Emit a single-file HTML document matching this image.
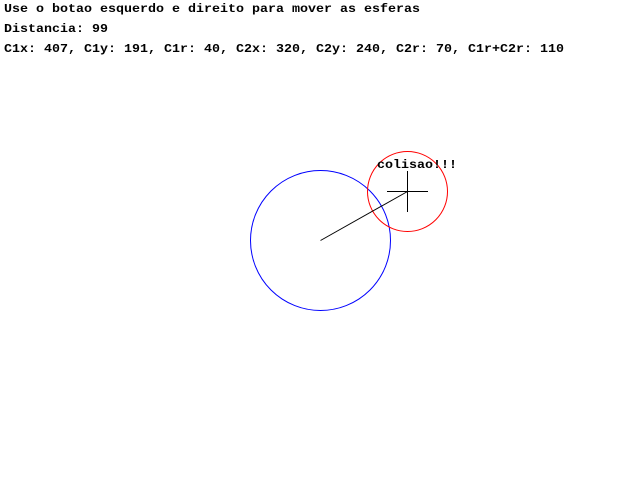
<!DOCTYPE html>
<html><head><meta charset="utf-8"><style>
html,body{margin:0;padding:0;background:#fff;width:640px;height:480px;overflow:hidden}
text{font-family:"Liberation Mono",monospace;font-weight:bold;font-size:12px;fill:#000}
</style></head><body>
<svg width="640" height="480" viewBox="0 0 640 480">
<rect width="640" height="480" fill="#fff"/>
<text x="4" y="12" textLength="416" lengthAdjust="spacingAndGlyphs">Use o botao esquerdo e direito para mover as esferas</text>
<text x="4" y="32" textLength="104" lengthAdjust="spacingAndGlyphs">Distancia: 99</text>
<text x="4" y="52" textLength="560" lengthAdjust="spacingAndGlyphs">C1x: 407, C1y: 191, C1r: 40, C2x: 320, C2y: 240, C2r: 70, C1r+C2r: 110</text>
<circle cx="320.5" cy="240.5" r="70" fill="none" stroke="#0000ff" stroke-width="1"/>
<circle cx="407.5" cy="191.5" r="40" fill="none" stroke="#ff0000" stroke-width="1"/>
<line x1="320.5" y1="240.5" x2="407.5" y2="191.5" stroke="#000" stroke-width="1"/>
<line x1="387" y1="191.5" x2="428" y2="191.5" stroke="#000" stroke-width="1"/>
<line x1="407.5" y1="171" x2="407.5" y2="212" stroke="#000" stroke-width="1"/>
<text x="377" y="168" textLength="80" lengthAdjust="spacingAndGlyphs">colisao!!!</text>
</svg>
</body></html>
